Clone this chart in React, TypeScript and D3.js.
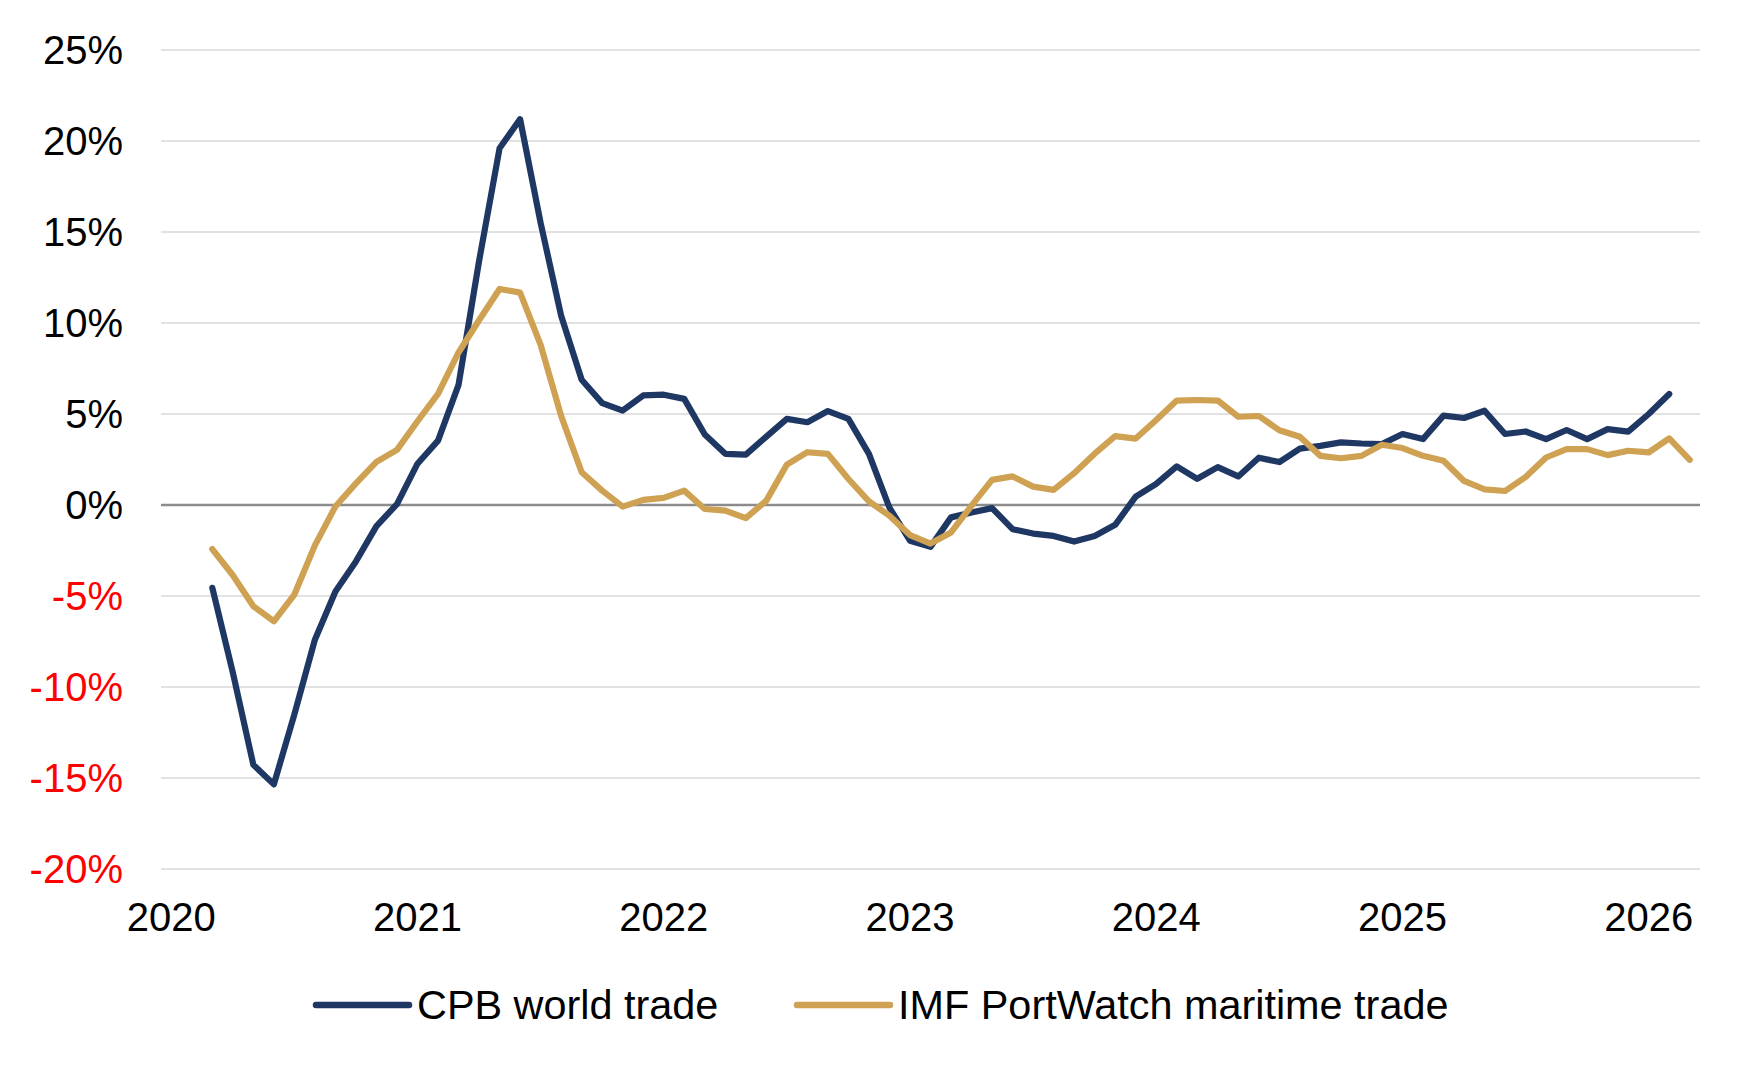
import * as d3 from 'd3';

// monthly y/y growth, first value is March 2020
const seriesStart = new Date(Date.UTC(2020, 2, 1));

const cpbWorldTrade = [
  -4.55, -9.2, -14.27, -15.35, -11.5, -7.4, -4.75, -3.1, -1.16, 0.05,
  2.27, 3.54, 6.6, 13.4, 19.6, 21.2, 15.5, 10.4, 6.88, 5.6, 5.19, 6.02,
  6.06, 5.83, 3.87, 2.81, 2.77, 3.76, 4.73, 4.55, 5.16, 4.73, 2.81, -0.15,
  -1.96, -2.3, -0.68, -0.41, -0.17, -1.33, -1.57, -1.7, -2.01, -1.7, -1.09, 0.46,
  1.16, 2.12, 1.44, 2.08, 1.57, 2.6, 2.36, 3.1, 3.25, 3.44, 3.38, 3.35,
  3.9, 3.62, 4.91, 4.78, 5.18, 3.9, 4.04, 3.62, 4.12, 3.62, 4.17, 4.03,
  5.0, 6.1,
];

const imfPortWatch = [
  -2.42, -3.86, -5.56, -6.39, -4.92, -2.22, -0.08, 1.19, 2.37, 3.03,
  4.6, 6.11, 8.38, 10.15, 11.87, 11.67, 8.8, 4.9, 1.8, 0.79, -0.09, 0.28,
  0.39, 0.79, -0.22, -0.31, -0.72, 0.24, 2.22, 2.9, 2.81, 1.43, 0.2, -0.59,
  -1.65, -2.12, -1.51, -0.04, 1.38, 1.57, 1.01, 0.83, 1.75, 2.82, 3.78, 3.65,
  4.67, 5.74, 5.77, 5.74, 4.85, 4.89, 4.11, 3.75, 2.7, 2.57, 2.7, 3.31,
  3.13, 2.7, 2.43, 1.32, 0.86, 0.77, 1.54, 2.61, 3.07, 3.07, 2.74, 2.98,
  2.89, 3.66, 2.48,
];

const yTicks = [-20, -15, -10, -5, 0, 5, 10, 15, 20, 25];
const yearLabels = [2020, 2021, 2022, 2023, 2024, 2025, 2026];

const series = [
  { key: 'cpb', label: 'CPB world trade', color: '#1f3763', values: cpbWorldTrade },
  { key: 'imf', label: 'IMF PortWatch maritime trade', color: '#cfa153', values: imfPortWatch },
];

const width = 1750;
const height = 1070;
const plot = { left: 161, right: 1700, top: 50, bottom: 869 };
const font = '"Liberation Sans", Arial, Helvetica, sans-serif';

const months = d3.utcMonth.range(new Date(Date.UTC(2020, 0, 1)), new Date(Date.UTC(2026, 3, 1)));
const monthKey = (d: Date) => d3.utcFormat('%Y-%m')(d);

const x = d3
  .scaleBand<string>()
  .domain(months.map(monthKey))
  .range([plot.left, plot.right])
  .paddingInner(0)
  .paddingOuter(0);

const y = d3.scaleLinear().domain([-20, 25]).range([plot.bottom, plot.top]);

function xCenter(d: Date) {
  return (x(monthKey(d)) ?? 0) + x.bandwidth() / 2;
}

function pointsFor(values: number[]) {
  return values.map((value, i) => ({ date: d3.utcMonth.offset(seriesStart, i), value }));
}

const line = d3
  .line<{ date: Date; value: number }>()
  .x((p) => xCenter(p.date))
  .y((p) => y(p.value));

const legendX = [316, 797];

export default function App() {
  return (
    <div style={{ position: 'absolute', left: 0, top: 0, background: '#fff' }}>
      <svg width={width} height={height} viewBox={`0 0 ${width} ${height}`} style={{ display: 'block' }}>
        <rect width={width} height={height} fill="#ffffff" />

        {yTicks
          .filter((t) => t !== 0)
          .map((t) => (
            <line key={t} x1={plot.left} x2={plot.right} y1={y(t)} y2={y(t)} stroke="#d9d9d9" strokeWidth={1.6} />
          ))}
        <line x1={plot.left} x2={plot.right} y1={y(0)} y2={y(0)} stroke="#8c8c8c" strokeWidth={2.6} />

        {yTicks.map((t) => (
          <text
            key={t}
            x={123}
            y={y(t) + 14}
            textAnchor="end"
            fontFamily={font}
            fontSize={40}
            fill={t < 0 ? '#ff0000' : '#000000'}
          >
            {`${t}%`}
          </text>
        ))}

        {yearLabels.map((yr) => (
          <text
            key={yr}
            x={xCenter(new Date(Date.UTC(yr, 0, 1)))}
            y={931}
            textAnchor="middle"
            fontFamily={font}
            fontSize={40}
            fill="#000000"
          >
            {yr}
          </text>
        ))}

        {series.map((s) => (
          <path
            key={s.key}
            d={line(pointsFor(s.values)) ?? ''}
            fill="none"
            stroke={s.color}
            strokeWidth={6.2}
            strokeLinejoin="round"
            strokeLinecap="round"
          />
        ))}

        {series.map((s, i) => (
          <g key={s.key} transform={`translate(${legendX[i]},1005)`}>
            <line x1={0} x2={93} y1={0} y2={0} stroke={s.color} strokeWidth={6.5} strokeLinecap="round" />
            <text x={101} y={14} fontFamily={font} fontSize={41.4} fill="#000000">
              {s.label}
            </text>
          </g>
        ))}
      </svg>
    </div>
  );
}
